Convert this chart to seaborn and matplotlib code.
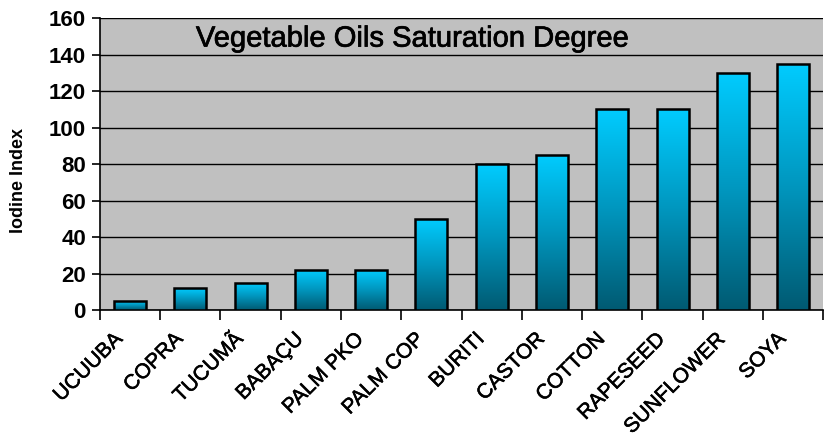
import numpy as np
import pandas as pd
import matplotlib as mpl
mpl.use("Agg")
from matplotlib import pyplot as plt
from matplotlib.colors import LinearSegmentedColormap
from matplotlib.transforms import ScaledTranslation
import matplotlib.patheffects as pe
import seaborn as sns

oils = ["UCUUBA", "COPRA", "TUCUMÃ", "BABAÇU", "PALM PKO", "PALM COP",
        "BURITI", "CASTOR", "COTTON", "RAPESEED", "SUNFLOWER", "SOYA"]
iodine = [5, 12, 15, 22, 22, 50, 80, 85, 110, 110, 130, 135]
y_ticks = [0, 20, 40, 60, 80, 100, 120, 140, 160]

df = pd.DataFrame({"oil": oils, "iodine": iodine})

sns.set_theme(style="white")
plt.rcParams['font.family'] = ['Liberation Sans', 'DejaVu Sans']
plt.rcParams['text.color'] = 'black'
plt.rcParams['axes.labelcolor'] = 'black'
plt.rcParams['xtick.color'] = 'black'
plt.rcParams['ytick.color'] = 'black'

fig = plt.figure(figsize=(8.25, 4.43), dpi=100)
ax = fig.add_axes([0.121, 0.30, 0.877, 0.659])
ax.set_facecolor("#C0C0C0")

sns.barplot(data=df, x="oil", y="iodine", color="#00CCFF", width=0.53,
            edgecolor="black", linewidth=1.8, ax=ax, zorder=3)

# gradient fill, cyan top -> dark teal bottom, per bar
cmap = LinearSegmentedColormap.from_list("oil", ["#005A72", "#0096BE", "#00CCFF"])
grad = np.linspace(0, 1, 256).reshape(-1, 1)
for p in ax.patches:
    x0, y0 = p.get_x(), p.get_y()
    w, h = p.get_width(), p.get_height()
    im = ax.imshow(grad, cmap=cmap, aspect="auto", origin="lower",
                   extent=[x0, x0 + w, y0, y0 + h], zorder=3)
    im.set_clip_path(p)
    p.set_facecolor("none")
    p.set_zorder(4)

ax.set_xlim(-0.5, len(oils) - 0.5)
ax.set_ylim(0, 160)
ax.set_yticks(y_ticks)
ax.yaxis.grid(True, color="black", linewidth=1.0, zorder=1)
ax.set_axisbelow(True)

for s in ["top", "right"]:
    ax.spines[s].set_visible(False)
ax.spines["left"].set_color("black")
ax.spines["bottom"].set_color("black")
ax.spines["left"].set_linewidth(1.2)
ax.spines["bottom"].set_linewidth(1.2)

# category labels, rotated, sitting a bit left of each bar
ax.set_xticks(range(len(oils)))
ax.set_xticklabels([])
shift = ScaledTranslation(-17 / 100, -19 / 100, fig.dpi_scale_trans)
for i, name in enumerate(oils):
    ax.text(i, 0, name, transform=ax.get_xaxis_transform() + shift,
            rotation=45, ha="right", va="top", rotation_mode="anchor",
            fontsize=15, clip_on=False,
            path_effects=[pe.withStroke(linewidth=0.4, foreground="black")])
ax.set_xticks(np.arange(-0.5, len(oils), 1), minor=True)
ax.tick_params(axis="x", which="major", length=0)
ax.tick_params(axis="x", which="minor", length=7, width=1.2, color="black",
               direction="out", bottom=True)
ax.tick_params(axis="y", length=6, width=1.2, color="black", left=True,
               direction="out", labelsize=16, pad=4)
for t in ax.get_yticklabels():
    t.set_fontweight("bold")

ax.set_xlabel("")
ax.set_ylabel("Iodine Index", fontsize=13, fontweight="bold")
ax.yaxis.set_label_coords(-0.101, 0.445)
ax.text(0.432, 0.93, "Vegetable Oils Saturation Degree", transform=ax.transAxes,
        ha="center", va="center", fontsize=21, zorder=5,
        path_effects=[pe.withStroke(linewidth=0.5, foreground="black")])

fig.savefig("out.png", dpi=100)
